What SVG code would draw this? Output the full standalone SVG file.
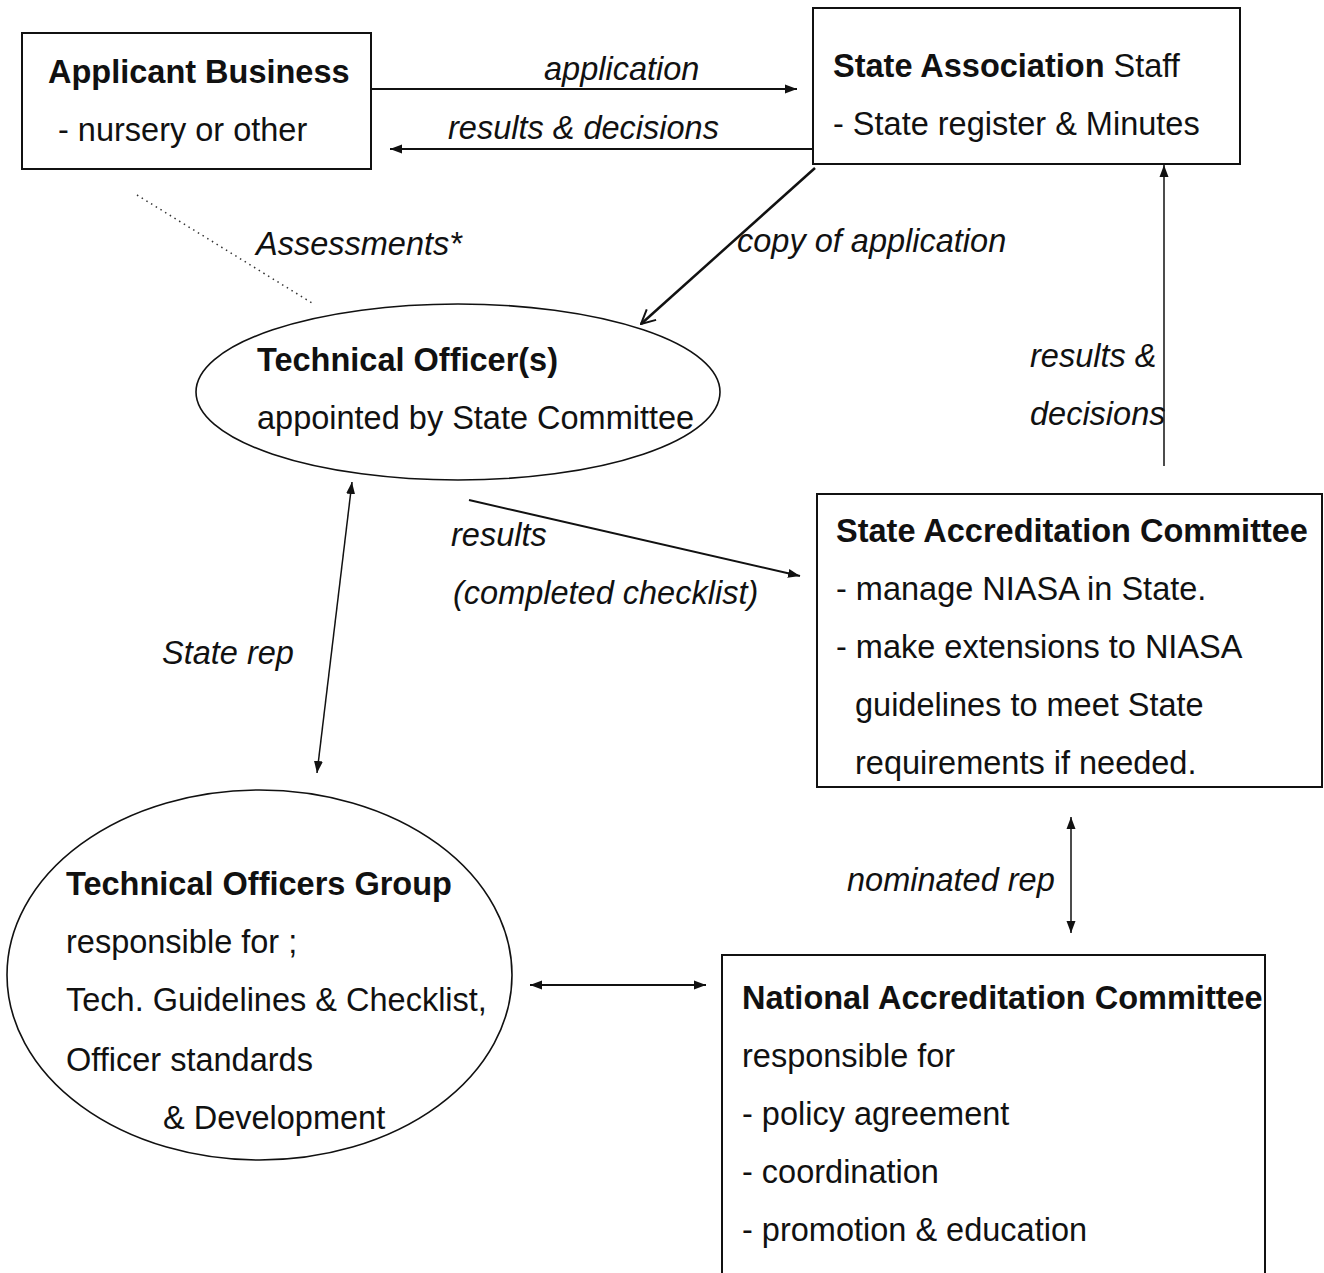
<svg xmlns="http://www.w3.org/2000/svg" width="1324" height="1273" viewBox="0 0 1324 1273">
  <defs>
    <style>
      text { font-family: "Liberation Sans", Arial, sans-serif; font-size: 32.5px; fill: #111; }
      .b { font-weight: bold; }
      .i { font-style: italic; }
      .shape { fill: #fff; stroke: #111; stroke-width: 2; }
      .oval { fill: #fff; stroke: #111; stroke-width: 1.6; }
      .line { fill: none; stroke: #111; stroke-width: 2; }
      .heavy { fill: none; stroke: #111; stroke-width: 2.5; }
      .thin { fill: none; stroke: #111; stroke-width: 1.5; }
      .dots { fill: none; stroke: #333; stroke-width: 1.5; stroke-dasharray: 1.5 4; }
    </style>
    <marker id="tip" viewBox="0 0 12 12" refX="12" refY="6" markerWidth="12" markerHeight="12" markerUnits="userSpaceOnUse" orient="auto-start-reverse">
      <path d="M0,1.5 L12,6 L0,10.5 Z" fill="#111"/>
    </marker>
    <marker id="vee" viewBox="0 0 16 16" refX="15" refY="8" markerWidth="16" markerHeight="16" markerUnits="userSpaceOnUse" orient="auto">
      <path d="M1,1 L15,8 L1,15" fill="none" stroke="#111" stroke-width="2"/>
    </marker>
  </defs>

  <rect width="1324" height="1273" fill="#fff"/>

  <!-- connectors -->
  <g id="connectors">
    <line class="line" x1="371" y1="89" x2="797" y2="89" marker-end="url(#tip)"/>
    <line class="line" x1="813" y1="149" x2="390" y2="149" marker-end="url(#tip)"/>
    <line class="heavy" x1="815" y1="168" x2="641" y2="324" marker-end="url(#vee)"/>
    <line class="dots" x1="137" y1="195" x2="312" y2="303"/>
    <line class="thin" x1="1164" y1="466" x2="1164" y2="165" marker-end="url(#tip)"/>
    <line class="line" x1="469" y1="500" x2="800" y2="576" marker-end="url(#tip)"/>
    <line class="thin" x1="352" y1="482" x2="317" y2="773" marker-start="url(#tip)" marker-end="url(#tip)"/>
    <line class="line" x1="530" y1="985" x2="706" y2="985" marker-start="url(#tip)" marker-end="url(#tip)"/>
    <line class="thin" x1="1071" y1="817" x2="1071" y2="933" marker-start="url(#tip)" marker-end="url(#tip)"/>
  </g>

  <!-- connector labels -->
  <g id="labels">
    <text class="i" x="544" y="80">application</text>
    <text class="i" x="448" y="139">results &amp; decisions</text>
    <text class="i" x="256" y="255">Assessments*</text>
    <text class="i" x="737" y="252">copy of application</text>
    <text class="i" x="1030" y="367">results &amp;</text>
    <text class="i" x="1030" y="425">decisions</text>
    <text class="i" x="451" y="546">results</text>
    <text class="i" x="453" y="604">(completed checklist)</text>
    <text class="i" x="162" y="664">State rep</text>
    <text class="i" x="847" y="891">nominated rep</text>
  </g>

  <g id="applicant-business">
    <rect class="shape" x="22" y="33" width="349" height="136"/>
    <text class="b" x="48" y="83">Applicant Business</text>
    <text x="58" y="141">- nursery or other</text>
  </g>

  <g id="state-association-staff">
    <rect class="shape" x="813" y="8" width="427" height="156"/>
    <text x="833" y="77"><tspan class="b">State Association</tspan> Staff</text>
    <text x="833" y="135">- State register &amp; Minutes</text>
  </g>

  <g id="technical-officers">
    <ellipse class="oval" cx="458" cy="392" rx="262" ry="88"/>
    <text class="b" x="257" y="371">Technical Officer(s)</text>
    <text x="257" y="429">appointed by State Committee</text>
  </g>

  <g id="state-accreditation-committee">
    <rect class="shape" x="817" y="494" width="505" height="293"/>
    <text class="b" x="836" y="542">State Accreditation Committee</text>
    <text x="836" y="600">- manage NIASA in State.</text>
    <text x="836" y="658">- make extensions to NIASA</text>
    <text x="855" y="716">guidelines to meet State</text>
    <text x="855" y="774">requirements if needed.</text>
  </g>

  <g id="technical-officers-group">
    <ellipse class="oval" cx="259.5" cy="975" rx="252.5" ry="185"/>
    <text class="b" x="66" y="895">Technical Officers Group</text>
    <text x="66" y="953">responsible for ;</text>
    <text x="66" y="1011">Tech. Guidelines &amp; Checklist,</text>
    <text x="66" y="1071">Officer standards</text>
    <text x="163" y="1129">&amp; Development</text>
  </g>

  <g id="national-accreditation-committee">
    <rect class="shape" x="722" y="955" width="543" height="330"/>
    <text class="b" x="742" y="1009">National Accreditation Committee</text>
    <text x="742" y="1067">responsible for</text>
    <text x="742" y="1125">- policy agreement</text>
    <text x="742" y="1183">- coordination</text>
    <text x="742" y="1241">- promotion &amp; education</text>
  </g>
</svg>
